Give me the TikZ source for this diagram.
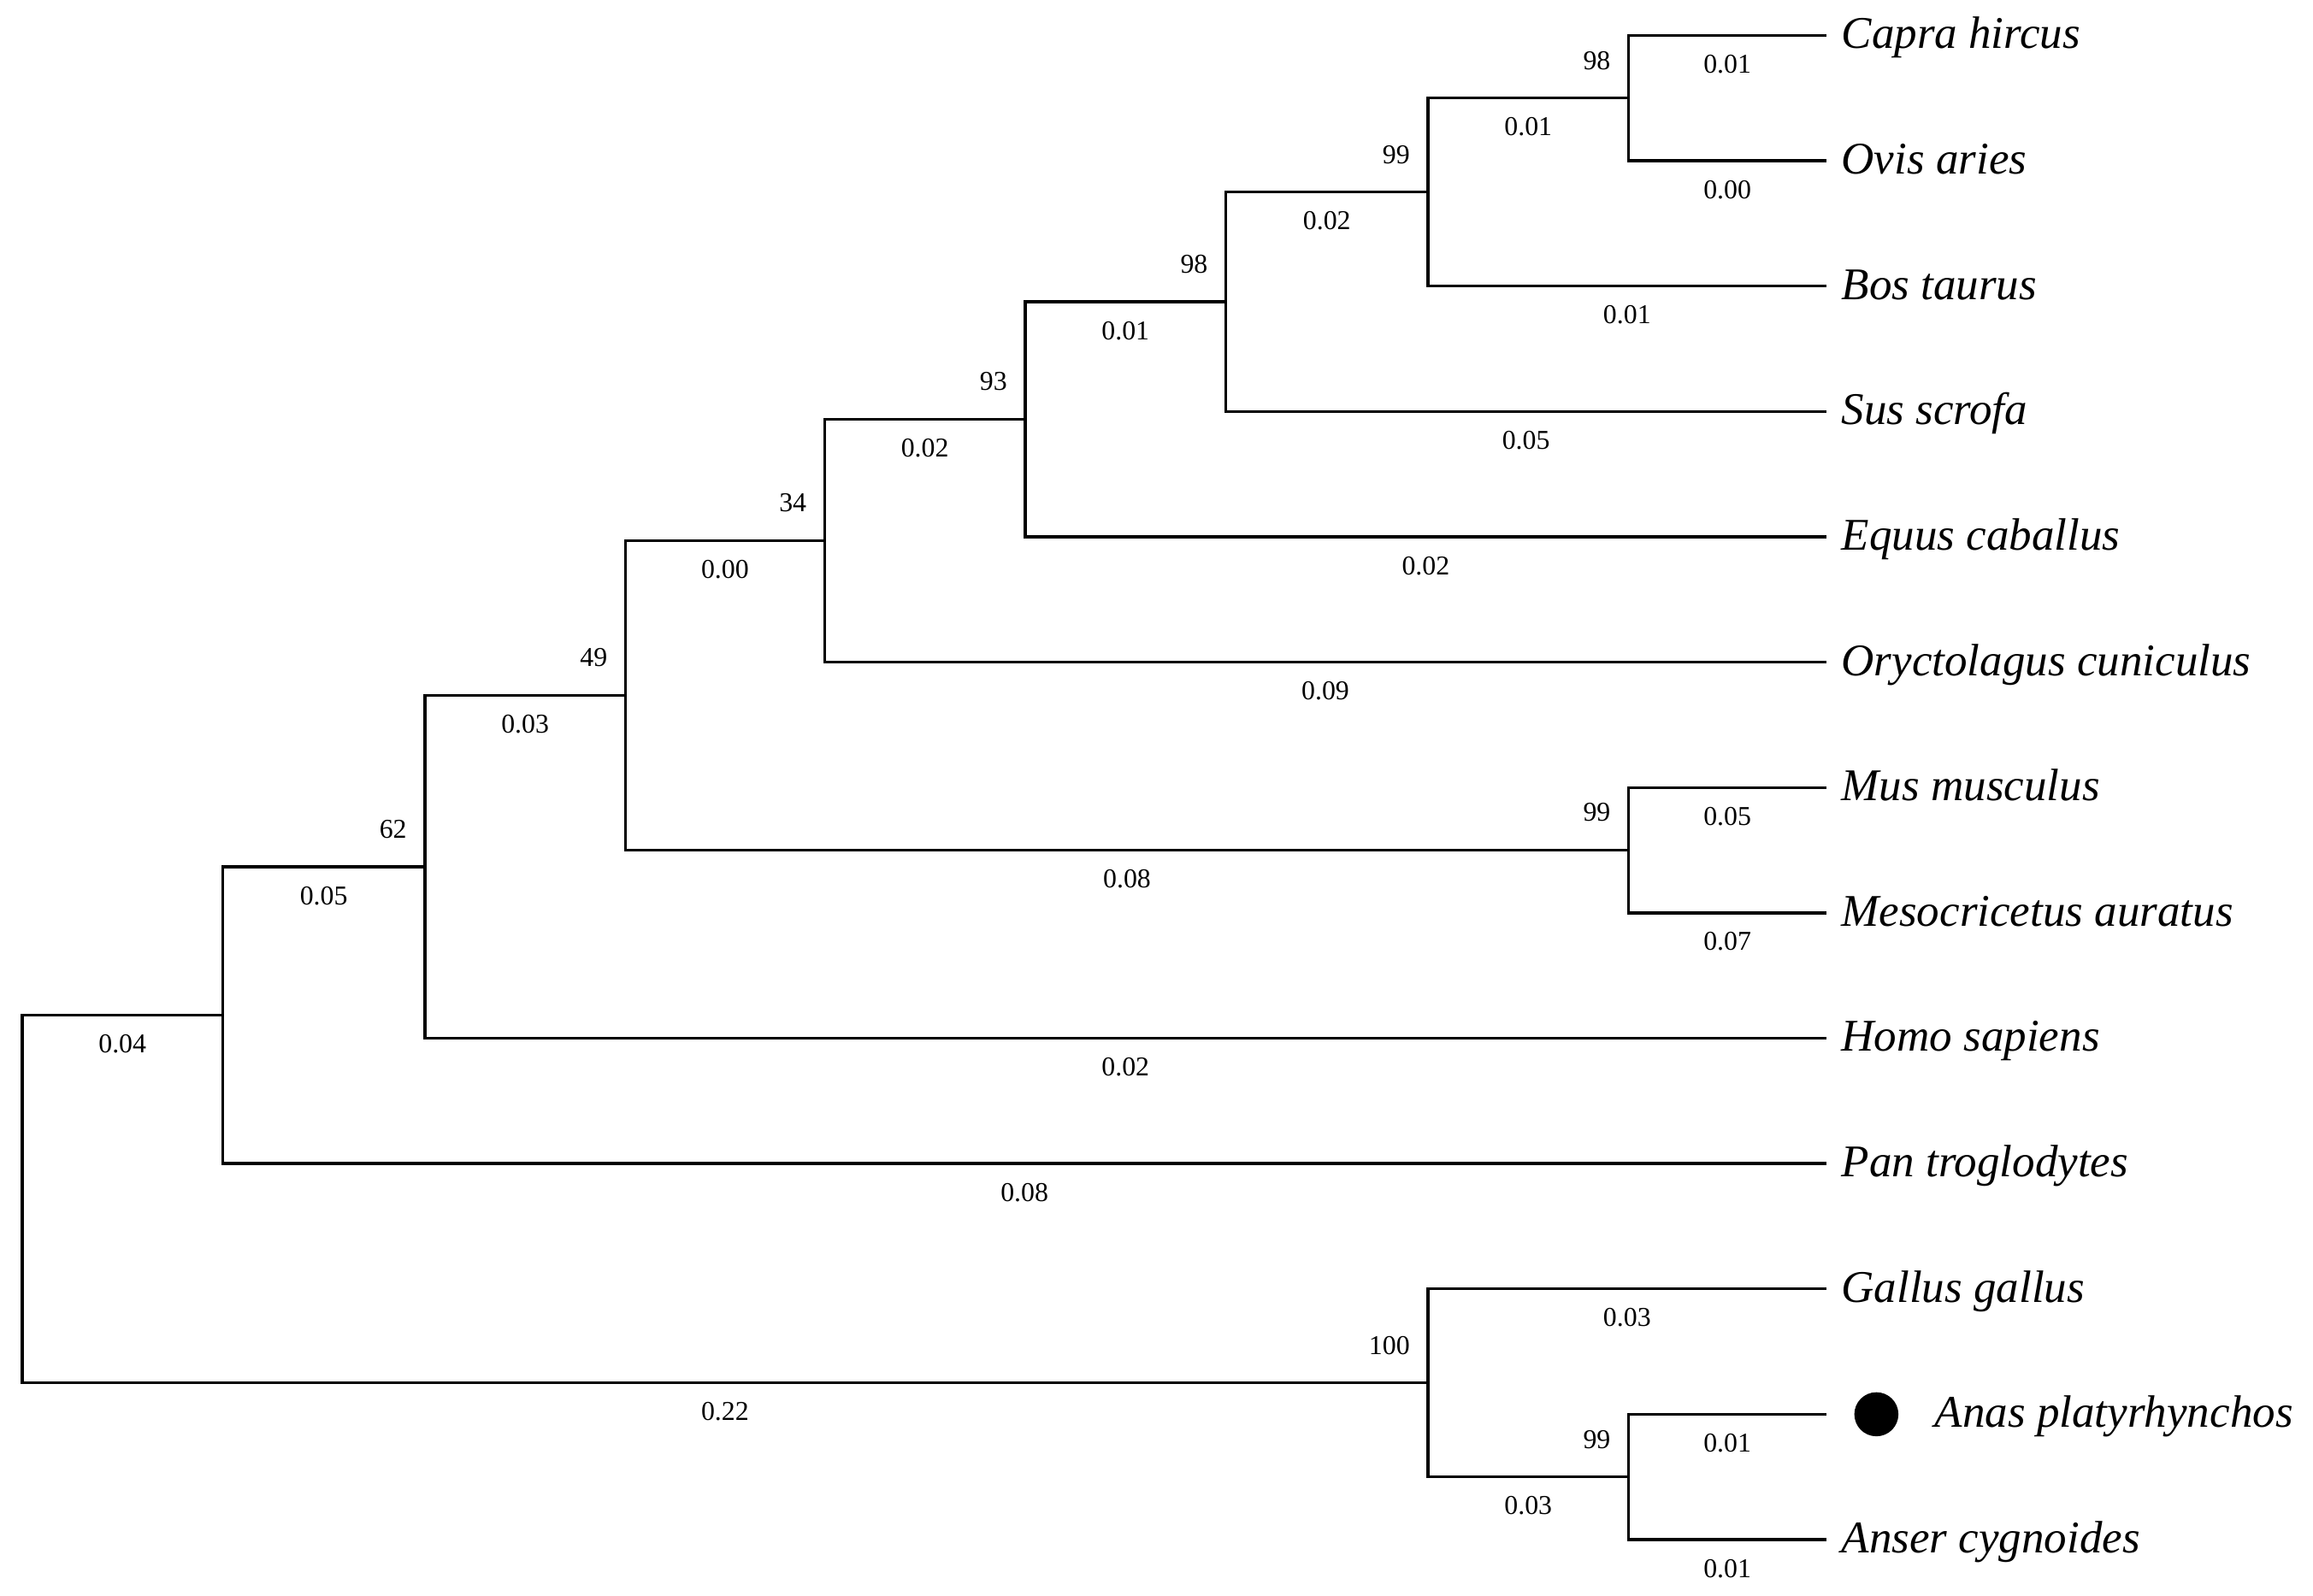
\documentclass[tikz,border=0pt]{standalone}
\usepackage{fontspec}
\setmainfont{Liberation Serif}
\usetikzlibrary{positioning,calc}

\tikzset{
  branch/.style={line width=1.1pt, black},
  leaf/.style={anchor=base west, inner sep=0pt, xshift=5.7pt, yshift=-5.1pt,
    font=\fontsize{17.5}{20}\selectfont\itshape},
  boot/.style={anchor=base east, inner sep=0pt, xshift=-6.8pt, yshift=11.1pt,
    font=\fontsize{10.5}{12}\selectfont},
  blen/.style={below=7pt, inner sep=0pt, font=\fontsize{10.5}{12}\selectfont},
  dotmark/.style={circle, fill=black, inner sep=0pt, minimum width=16pt, minimum height=17pt}
}

\begin{document}
\begin{tikzpicture}[x=0.02cm, y=-0.02cm]
    \useasboundingbox (0,0) rectangle (1568,1082);

    % leaf ends
    \coordinate (capra)  at (1238,24);
    \coordinate (ovis)   at (1238,109);
    \coordinate (bos)    at (1238,194);
    \coordinate (sus)    at (1238,279);
    \coordinate (equus)  at (1238,364);
    \coordinate (oryct)  at (1238,449);
    \coordinate (mus)    at (1238,534);
    \coordinate (meso)   at (1238,619);
    \coordinate (homo)   at (1238,704);
    \coordinate (pan)    at (1238,789);
    \coordinate (gallus) at (1238,874);
    \coordinate (anas)   at (1238,959);
    \coordinate (anser)  at (1238,1044);

    % inner nodes
    \coordinate (nCO)   at (1104,66.5);
    \coordinate (nCOB)  at (968,130.25);
    \coordinate (nCOBS) at (831,204.6);
    \coordinate (n93)   at (695,284.3);
    \coordinate (n34)   at (559,366.7);
    \coordinate (nMM)   at (1104,576.5);
    \coordinate (n49)   at (424,471.6);
    \coordinate (n62)   at (288,587.8);
    \coordinate (nPrim) at (151,688.4);
    \coordinate (nAA)   at (1104,1001.5);
    \coordinate (nBird) at (968,937.75);
    \coordinate (root)  at (15,813);

    % branches
    \draw[branch] (nCO) |- (capra) node[blen, pos=0.75] {0.01};
    \draw[branch] (nCO) |- (ovis) node[blen, pos=0.75] {0.00};
    \draw[branch] (nCOB) |- (nCO) node[blen, pos=0.75] {0.01};
    \draw[branch] (nCOB) |- (bos) node[blen, pos=0.75] {0.01};
    \draw[branch] (nCOBS) |- (nCOB) node[blen, pos=0.75] {0.02};
    \draw[branch] (nCOBS) |- (sus) node[blen, pos=0.75] {0.05};
    \draw[branch] (n93) |- (nCOBS) node[blen, pos=0.75] {0.01};
    \draw[branch] (n93) |- (equus) node[blen, pos=0.75] {0.02};
    \draw[branch] (n34) |- (n93) node[blen, pos=0.75] {0.02};
    \draw[branch] (n34) |- (oryct) node[blen, pos=0.75] {0.09};
    \draw[branch] (n49) |- (n34) node[blen, pos=0.75] {0.00};
    \draw[branch] (n49) |- (nMM) node[blen, pos=0.75] {0.08};
    \draw[branch] (nMM) |- (mus) node[blen, pos=0.75] {0.05};
    \draw[branch] (nMM) |- (meso) node[blen, pos=0.75] {0.07};
    \draw[branch] (n62) |- (n49) node[blen, pos=0.75] {0.03};
    \draw[branch] (n62) |- (homo) node[blen, pos=0.75] {0.02};
    \draw[branch] (nPrim) |- (n62) node[blen, pos=0.75] {0.05};
    \draw[branch] (nPrim) |- (pan) node[blen, pos=0.75] {0.08};
    \draw[branch] (root) |- (nPrim) node[blen, pos=0.75] {0.04};
    \draw[branch] (root) |- (nBird) node[blen, pos=0.75] {0.22};
    \draw[branch] (nBird) |- (gallus) node[blen, pos=0.75] {0.03};
    \draw[branch] (nBird) |- (nAA) node[blen, pos=0.75] {0.03};
    \draw[branch] (nAA) |- (anas) node[blen, pos=0.75] {0.01};
    \draw[branch] (nAA) |- (anser) node[blen, pos=0.75] {0.01};

    % bootstrap values
    \node[boot] (bCO)   at (nCO)   {98};
    \node[boot] (bCOB)  at (nCOB)  {99};
    \node[boot] (bCOBS) at (nCOBS) {98};
    \node[boot] (b93)   at (n93)   {93};
    \node[boot] (b34)   at (n34)   {34};
    \node[boot] (b49)   at (n49)   {49};
    \node[boot] (b62)   at (n62)   {62};
    \node[boot] (bMM)   at (nMM)   {99};
    \node[boot] (bBird) at (nBird) {100};
    \node[boot] (bAA)   at (nAA)   {99};

    % species
    \node[leaf] (capraL)  at (capra)  {Capra hircus};
    \node[leaf] (ovisL)   at (ovis)   {Ovis aries};
    \node[leaf] (bosL)    at (bos)    {Bos taurus};
    \node[leaf] (susL)    at (sus)    {Sus scrofa};
    \node[leaf] (equusL)  at (equus)  {Equus caballus};
    \node[leaf] (oryctL)  at (oryct)  {Oryctolagus cuniculus};
    \node[leaf] (musL)    at (mus)    {Mus musculus};
    \node[leaf] (mesoL)   at (meso)   {Mesocricetus auratus};
    \node[leaf] (homoL)   at (homo)   {Homo sapiens};
    \node[leaf] (panL)    at (pan)    {Pan troglodytes};
    \node[leaf] (gallusL) at (gallus) {Gallus gallus};
    \node[dotmark] (anasdot) at (1272,959) {};
    \node[leaf] (anasL)   at ($(anasdot.east)+(14,0)$) {Anas platyrhynchos};
    \node[leaf] (anserL)  at (anser)  {Anser cygnoides};
\end{tikzpicture}
\end{document}
